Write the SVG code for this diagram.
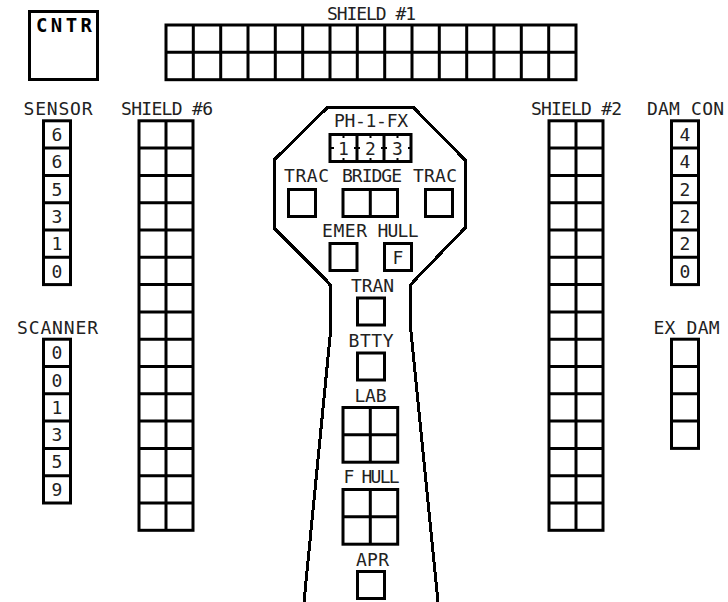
<svg xmlns="http://www.w3.org/2000/svg" width="728" height="602" viewBox="0 0 728 602">
<defs>
<style>
.g{fill:#fff;stroke:#000;stroke-width:3}
.o{fill:none;stroke:#000;stroke-width:3;stroke-linejoin:miter;shape-rendering:crispEdges}
.l{stroke:#000;stroke-width:3;fill:none}
.k{stroke:#000;stroke-width:2;fill:none}
text{font-family:"DejaVu Sans Mono","Liberation Mono",monospace;font-size:18px;fill:#222}
.n{text-anchor:middle}
.b{font-weight:bold;fill:#000;font-size:19px}
</style>
</defs>
<rect width="728" height="602" fill="#fff"/>
<g id="hull-outline">
<path class="o" d="M328 107H413L465 160V228L414 281L410.500 285V327L438 602"/>
<path class="o" d="M328 107L274 160V228L326 280L330 285V337L304 602"/>
</g>
<g id="cntr"><rect class="g" x="29.500" y="11.500" width="68" height="68"/><text class="b" x="36" y="32" textLength="56">CNTR</text></g>
<g id="shield1"><text x="327" y="20" textLength="89">SHIELD #1</text>
<rect class="g" x="166" y="25" width="410" height="54.700"/>
<path class="l" d="M166 52.300H576M193.300 25V79.700M220.700 25V79.700M248 25V79.700M275.300 25V79.700M302.700 25V79.700M330 25V79.700M357.300 25V79.700M384.700 25V79.700M412 25V79.700M439.300 25V79.700M466.700 25V79.700M494 25V79.700M521.300 25V79.700M548.700 25V79.700"/></g>
<g id="shield6"><text x="121" y="115" textLength="92">SHIELD #6</text>
<rect class="g" x="139" y="120.800" width="54" height="409.500"/>
<path class="l" d="M166 120.800V530.300M139 148.100H193M139 175.400H193M139 202.700H193M139 230H193M139 257.300H193M139 284.600H193M139 311.900H193M139 339.200H193M139 366.500H193M139 393.800H193M139 421.100H193M139 448.400H193M139 475.700H193M139 503H193"/></g>
<g id="shield2"><text x="531" y="115" textLength="91">SHIELD #2</text>
<rect class="g" x="549" y="120.800" width="54" height="409.500"/>
<path class="l" d="M576 120.800V530.300M549 148.100H603M549 175.400H603M549 202.700H603M549 230H603M549 257.300H603M549 284.600H603M549 311.900H603M549 339.200H603M549 366.500H603M549 393.800H603M549 421.100H603M549 448.400H603M549 475.700H603M549 503H603"/></g>
<g id="sensor"><text x="23.500" y="115" textLength="69">SENSOR</text>
<rect class="g" x="43.500" y="120.800" width="27" height="163.800"/>
<path class="l" d="M43.500 148.100H70.500M43.500 175.400H70.500M43.500 202.700H70.500M43.500 230H70.500M43.500 257.300H70.500"/>
<text class="n" x="57" y="141">6</text><text class="n" x="57" y="168">6</text><text class="n" x="57" y="195.500">5</text><text class="n" x="57" y="223">3</text><text class="n" x="57" y="250">1</text><text class="n" x="57" y="277.500">0</text></g>
<g id="scanner"><text x="17" y="334" textLength="81">SCANNER</text>
<rect class="g" x="43.500" y="339.200" width="27" height="163.800"/>
<path class="l" d="M43.500 366.500H70.500M43.500 393.800H70.500M43.500 421.100H70.500M43.500 448.400H70.500M43.500 475.700H70.500"/>
<text class="n" x="57" y="359">0</text><text class="n" x="57" y="386.500">0</text><text class="n" x="57" y="413.500">1</text><text class="n" x="57" y="441">3</text><text class="n" x="57" y="468">5</text><text class="n" x="57" y="495.500">9</text></g>
<g id="damcon"><text x="647" y="115" textLength="77">DAM CON</text>
<rect class="g" x="671.500" y="120.800" width="27" height="163.800"/>
<path class="l" d="M671.500 148.100H698.500M671.500 175.400H698.500M671.500 202.700H698.500M671.500 230H698.500M671.500 257.300H698.500"/>
<text class="n" x="685" y="141">4</text><text class="n" x="685" y="168">4</text><text class="n" x="685" y="195.500">2</text><text class="n" x="685" y="223">2</text><text class="n" x="685" y="250">2</text><text class="n" x="685" y="277.500">0</text></g>
<g id="exdam"><text x="653.500" y="334" textLength="66">EX DAM</text>
<rect class="g" x="671.500" y="339.200" width="27" height="109.200"/>
<path class="l" d="M671.500 366.500H698.500M671.500 393.800H698.500M671.500 421.100H698.500"/></g>
<g id="phasers"><text x="334" y="127" textLength="74">PH-1-FX</text>
<rect class="g" x="330" y="134.500" width="81" height="27"/>
<path class="l" d="M357 134.500V161.500M384 134.500V161.500"/>
<path class="k" d="M343.500 136V138M370.500 136V138M397.500 136V138M343.500 158V160M370.500 158V160M397.500 158V160M331 148H334M354 148H360M381 148H387M408 148H410"/>
<text class="n" x="343.500" y="154.500">1</text><text class="n" x="370.500" y="154.500">2</text><text class="n" x="397.500" y="154.500">3</text></g>
<g id="trac-l"><text x="284" y="182" textLength="45">TRAC</text><rect class="g" x="288.500" y="189.500" width="27" height="27"/></g>
<g id="bridge"><text x="342" y="182" textLength="60">BRIDGE</text><rect class="g" x="343" y="189.500" width="54.500" height="27"/><path class="l" d="M370.300 189.500V216.500"/></g>
<g id="trac-r"><text x="413" y="182" textLength="44">TRAC</text><rect class="g" x="425.500" y="189.500" width="27" height="27"/></g>
<g id="emer"><text x="322" y="237" textLength="45">EMER</text><rect class="g" x="330" y="243.500" width="27" height="27"/></g>
<g id="hull"><text x="377.500" y="237" textLength="41">HULL</text><rect class="g" x="384.500" y="243.500" width="27" height="27"/><text class="n" x="398" y="263.500">F</text></g>
<g id="tran"><text x="351" y="291.500" textLength="43">TRAN</text><rect class="g" x="357.500" y="298" width="27" height="27"/></g>
<g id="btty"><text x="348.500" y="347" textLength="45">BTTY</text><rect class="g" x="357.500" y="353" width="27" height="27"/></g>
<g id="lab"><text x="354.500" y="401.500" textLength="32">LAB</text><rect class="g" x="343" y="407.500" width="54.700" height="54.700"/><path class="l" d="M370.300 407.500V462.200M343 434.800H397.700"/></g>
<g id="fhull"><text x="343.500" y="483" textLength="56">F HULL</text><rect class="g" x="343" y="489.500" width="54.700" height="54.700"/><path class="l" d="M370.300 489.500V544.200M343 516.800H397.700"/></g>
<g id="apr"><text x="356" y="566" textLength="33">APR</text><rect class="g" x="357.500" y="571.500" width="27" height="27"/></g>
</svg>
